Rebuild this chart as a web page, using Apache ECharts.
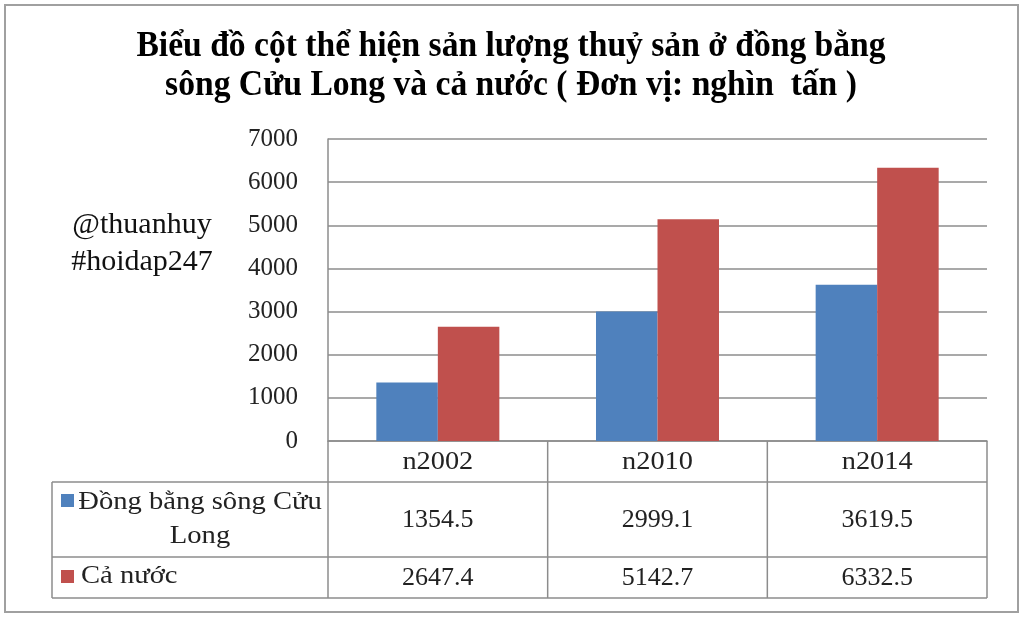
<!DOCTYPE html>
<html><head><meta charset="utf-8">
<script src="https://cdn.jsdelivr.net/npm/echarts@6/dist/echarts.min.js"></script>
<style>html,body{margin:0;padding:0;background:#fff}#c{width:1024px;height:617px}</style>
</head><body><div id="c"></div>
<script>
const titleLines = ['Biểu đồ cột thể hiện sản lượng thuỷ sản ở đồng bằng', 'sông Cửu Long và cả nước ( Đơn vị: nghìn  tấn )'];
const watermark = ['@thuanhuy', '#hoidap247'];
const categories = ['n2002', 'n2010', 'n2014'];
const seriesNames = ['Đồng bằng sông Cửu\nLong', 'Cả nước'];
const dbscl = [1354.5, 2999.1, 3619.5];
const caNuoc = [2647.4, 5142.7, 6332.5];
const colors = ['#4F81BD', '#C0504D'];

const FONT = '"Liberation Serif", "Times New Roman", serif';
const LINE = '#8c8c8c';
const chart = echarts.init(document.getElementById('c'));
chart.setOption({
  animation: false,
  grid: { left: 328, right: 37, top: 139, bottom: 176, containLabel: false },
  xAxis: {
    type: 'category', data: categories,
    axisLine: { show: true, lineStyle: { color: LINE, width: 1.5 } },
    axisTick: { show: false },
    axisLabel: { show: false }
  },
  yAxis: {
    type: 'value', min: 0, max: 7000, interval: 1000,
    axisLine: { show: true, lineStyle: { color: LINE, width: 1.5 } },
    axisTick: { show: false },
    splitLine: { lineStyle: { color: LINE, width: 1.5 } },
    axisLabel: { fontFamily: FONT, fontSize: 25, color: '#222', margin: 30, formatter: v => String(v) }
  },
  series: [
    { name: seriesNames[0], type: 'bar', data: dbscl, itemStyle: { color: colors[0] }, barGap: '0%', barCategoryGap: '44%' },
    { name: seriesNames[1], type: 'bar', data: caNuoc, itemStyle: { color: colors[1] }, barGap: '0%', barCategoryGap: '44%' }
  ]
});

const rect = chart.getModel().getComponent('grid', 0).coordinateSystem.getRect();
const y0 = chart.convertToPixel({ yAxisIndex: 0 }, 0);
const band = rect.width / categories.length;
const tableLeft = 52;
const rowBottoms = [y0 + 41, y0 + 116, y0 + 157];
const els = [];
const line = (x1, y1, x2, y2) => els.push({ type: 'line', shape: { x1, y1, x2, y2 }, style: { stroke: LINE, lineWidth: 1.5 }, silent: true });
const txt = (text, x, y, opts, sx) => els.push({ type: 'text', x, y, scaleX: sx || 1, style: Object.assign({ text, font: '26px ' + FONT, fill: '#222', align: 'center', verticalAlign: 'middle' }, opts || {}), silent: true });

// outer chart border
els.push({ type: 'rect', shape: { x: 5, y: 5, width: 1013, height: 607 }, style: { fill: null, stroke: '#a0a0a0', lineWidth: 2 }, silent: true });

// table grid
rowBottoms.forEach(yy => line(tableLeft, yy, rect.x + rect.width, yy));
line(tableLeft, rowBottoms[0], tableLeft, rowBottoms[2]);
for (let i = 0; i <= categories.length; i++) {
  const xx = rect.x + band * i;
  line(xx, y0, xx, rowBottoms[2]);
}
// header row (category names)
categories.forEach(c => {
  const cx = chart.convertToPixel({ xAxisIndex: 0 }, c);
  txt(c, cx, (y0 + rowBottoms[0]) / 2 + 1, null, 1.09);
});
// table values
const rowsData = [dbscl, caNuoc];
const rowCenters = [(rowBottoms[0] + rowBottoms[1]) / 2, (rowBottoms[1] + rowBottoms[2]) / 2];
rowsData.forEach((arr, r) => {
  arr.forEach((v, i) => {
    const cx = chart.convertToPixel({ xAxisIndex: 0 }, categories[i]);
    txt(String(v), cx, rowCenters[r] + 1);
  });
  els.push({ type: 'rect', shape: { x: 61, y: (r === 0 ? rowBottoms[0] + 12 : rowBottoms[1] + 13), width: 13, height: 13 }, style: { fill: colors[r] }, silent: true });
});
txt(seriesNames[0], 200, rowCenters[0], { lineHeight: 34 }, 1.1);
txt(seriesNames[1], 81, rowCenters[1] - 1, { align: 'left' }, 1.1);

// watermark
txt(watermark[0], 142, 225, { font: '30px ' + FONT, fill: '#111' });
txt(watermark[1], 142, 262, { font: '30px ' + FONT, fill: '#111' });

// title
txt(titleLines[0], 511, 47, { font: 'bold 35px ' + FONT, fill: '#000' }, 0.96);
txt(titleLines[1], 511, 86, { font: 'bold 35px ' + FONT, fill: '#000' }, 0.96);

chart.setOption({ graphic: { elements: els } });
</script></body></html>
